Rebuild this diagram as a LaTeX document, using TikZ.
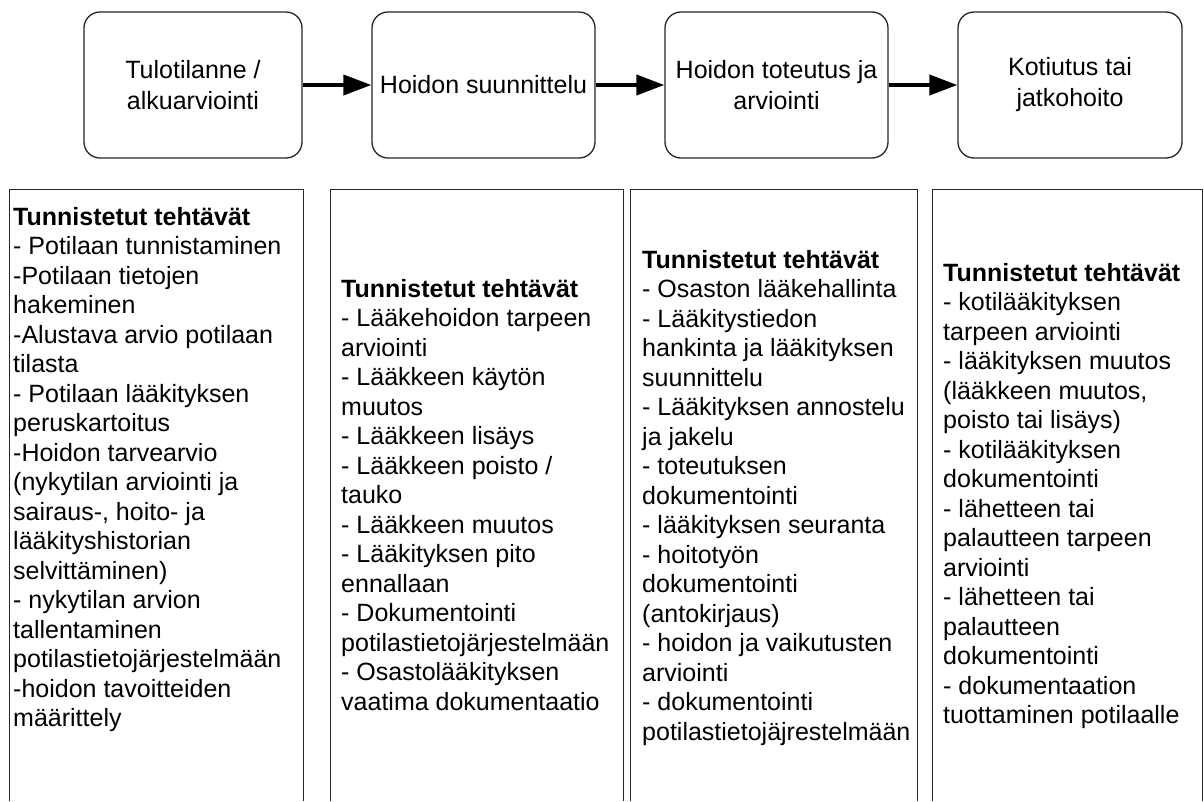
\documentclass[tikz,border=0pt]{standalone}
\usepackage{fontspec}
\setmainfont{Liberation Sans}
\usetikzlibrary{arrows.meta}
\begin{document}
\begin{tikzpicture}[x=1pt,y=-1pt,
  phase/.style={draw=black!85, line width=1.3pt, rounded corners=16pt,
    minimum height=146pt, inner sep=4pt, align=center,
    font=\fontsize{25}{31}\selectfont},
  frame/.style={draw=none, minimum height=611pt, inner sep=0pt},
  framebox/.style={draw=black!85, line width=1.2pt},
  tasks/.style={anchor=north west, inner sep=0pt, align=left,
    font=\fontsize{25}{29.5}\selectfont},
  flow/.style={line width=4pt, -{Triangle[length=28pt,width=20pt]}}]
\useasboundingbox (0,0) rectangle (1204,801);
\fill[white] (0,0) rectangle (1204,801);

% phases
\node[phase, minimum width=218pt] (p1) at (193,85) {Tulotilanne /\\alkuarviointi};
\node[phase, minimum width=223pt] (p2) at (483.5,85) {Hoidon suunnittelu};
\node[phase, minimum width=223pt] (p3) at (776.5,85) {Hoidon toteutus ja\\arviointi};
\node[phase, minimum width=224pt] (p4) at (1070,85) {Kotiutus tai\\jatkohoito};

\draw[flow] (p1.east) -- (p2.west);
\draw[flow] (p2.east) -- (p3.west);
\draw[flow] (p3.east) -- (p4.west);

% task frames (open at the bottom edge)
\node[frame, minimum width=293pt] (f1) at (156.5,495.5) {};
\node[frame, minimum width=292pt] (f2) at (477,495.5) {};
\node[frame, minimum width=286pt] (f3) at (774,495.5) {};
\node[frame, minimum width=269pt] (f4) at (1067.5,495.5) {};
\foreach \f in {f1,f2,f3,f4}
  \draw[framebox] (\f.south west) |- (\f.north east) -- (\f.south east);

% task texts
\node[tasks] (t1) at (13,203) {\rule{0pt}{22pt}\textbf{Tunnistetut tehtävät}\\
- Potilaan tunnistaminen\\
-Potilaan tietojen\\
hakeminen\\
-Alustava arvio potilaan\\
tilasta\\
- Potilaan lääkityksen\\
peruskartoitus\\
-Hoidon tarvearvio\\
(nykytilan arviointi ja\\
sairaus-, hoito- ja\\
lääkityshistorian\\
selvittäminen)\\
- nykytilan arvion\\
tallentaminen\\
potilastietojärjestelmään\\
-hoidon tavoitteiden\\
määrittely};

\node[tasks] (t2) at (341,275) {\rule{0pt}{22pt}\textbf{Tunnistetut tehtävät}\\
- Lääkehoidon tarpeen\\
arviointi\\
- Lääkkeen käytön\\
muutos\\
- Lääkkeen lisäys\\
- Lääkkeen poisto /\\
tauko\\
- Lääkkeen muutos\\
- Lääkityksen pito\\
ennallaan\\
- Dokumentointi\\
potilastietojärjestelmään\\
- Osastolääkityksen\\
vaatima dokumentaatio};

\node[tasks] (t3) at (642,246) {\rule{0pt}{22pt}\textbf{Tunnistetut tehtävät}\\
- Osaston lääkehallinta\\
- Lääkitystiedon\\
hankinta ja lääkityksen\\
suunnittelu\\
- Lääkityksen annostelu\\
ja jakelu\\
- toteutuksen\\
dokumentointi\\
- lääkityksen seuranta\\
- hoitotyön\\
dokumentointi\\
(antokirjaus)\\
- hoidon ja vaikutusten\\
arviointi\\
- dokumentointi\\
potilastietojäjrestelmään};

\node[tasks] (t4) at (943,259) {\rule{0pt}{22pt}\textbf{Tunnistetut tehtävät}\\
- kotilääkityksen\\
tarpeen arviointi\\
- lääkityksen muutos\\
(lääkkeen muutos,\\
poisto tai lisäys)\\
- kotilääkityksen\\
dokumentointi\\
- lähetteen tai\\
palautteen tarpeen\\
arviointi\\
- lähetteen tai\\
palautteen\\
dokumentointi\\
- dokumentaation\\
tuottaminen potilaalle};
\end{tikzpicture}
\end{document}
